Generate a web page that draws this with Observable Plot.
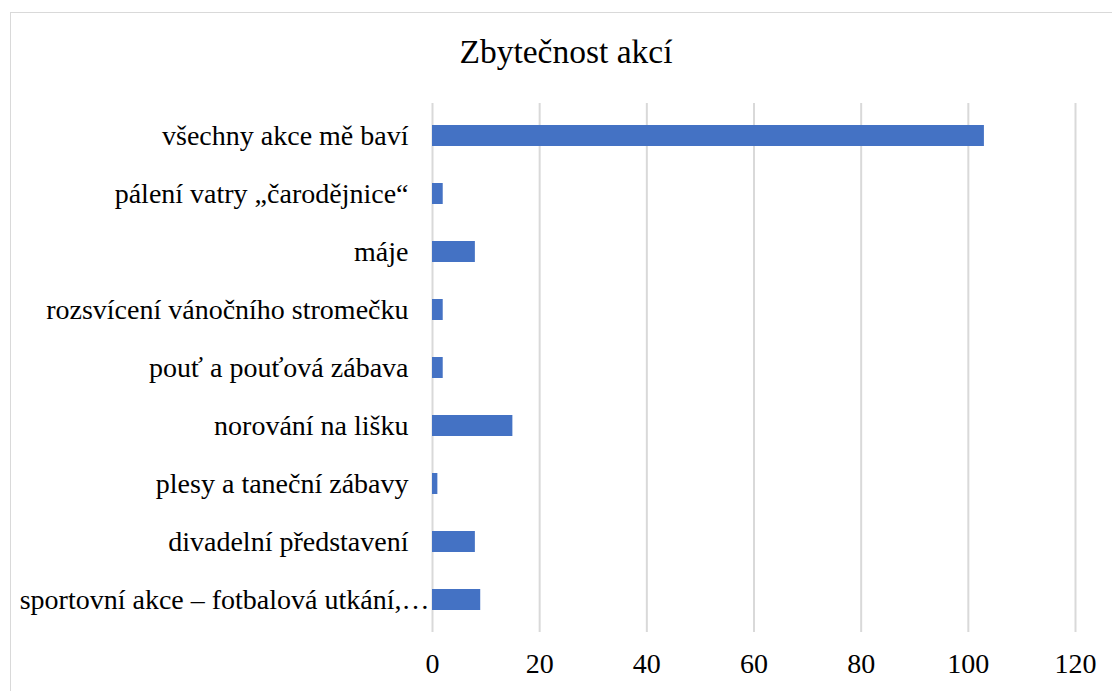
<!DOCTYPE html>
<html>
<head>
<meta charset="utf-8">
<script src="https://cdn.jsdelivr.net/npm/d3@7"></script>
<script src="https://cdn.jsdelivr.net/npm/@observablehq/plot@0.6"></script>
<style>
  html, body { margin: 0; padding: 0; background: #fff; overflow: hidden; }
  #page { position: relative; width: 1112px; height: 691px; }
  #frame { position: absolute; left: 10px; top: 12px; width: 1110px; height: 690px; border: 1.5px solid #d9d9d9; box-sizing: border-box; }
  #title { position: absolute; left: 0; width: 1132px; top: 32px; text-align: center; font-family: "Liberation Serif", serif; font-size: 33.5px; color: #000; line-height: 40px; }
  #chart { position: absolute; left: 0; top: 80px; }
  svg { font-family: "Liberation Serif", serif; }
</style>
</head>
<body>
<div id="page">
  <div id="frame"></div>
  <div id="title">Zbytečnost akcí</div>
  <div id="chart"></div>
</div>
<script>
const categories = [
  "všechny akce mě baví",
  "pálení vatry „čarodějnice“",
  "máje",
  "rozsvícení vánočního stromečku",
  "pouť a pouťová zábava",
  "norování na lišku",
  "plesy a taneční zábavy",
  "divadelní představení",
  "sportovní akce – fotbalová utkání,…"
];
const values = [103, 2, 8, 2, 2, 15, 1, 8, 9];
const xTicks = [0, 20, 40, 60, 80, 100, 120];

const data = categories.map((c, i) => ({category: c, value: values[i]}));
const lastCat = categories[categories.length - 1];
const serif = "Liberation Serif, Times New Roman, serif";

const chart = Plot.plot({
  width: 1112,
  height: 611,
  marginLeft: 432,
  marginRight: 37,
  marginTop: 23,
  marginBottom: 59,
  style: {fontFamily: serif, fontSize: "28px", background: "transparent"},
  x: {domain: [0, 120], ticks: xTicks},
  y: {domain: categories, paddingInner: 0.64, paddingOuter: 0.32, axis: null},
  marks: [
    Plot.gridX(xTicks, {stroke: "#d9d9d9", strokeOpacity: 1, strokeWidth: 2}),
    Plot.barX(data, {x: "value", y: "category", fill: "#4472C4"}),
    Plot.axisX({ticks: xTicks, tickSize: 0, tickPadding: 21, label: null, fontSize: 28, fontFamily: serif, fill: "#000"}),
    Plot.text(data.filter(d => d.category !== lastCat), {x: 0, y: "category", text: "category", textAnchor: "end", dx: -24, fontSize: 28, fontFamily: serif, fill: "#000"}),
    Plot.text(data.filter(d => d.category === lastCat), {x: 0, y: "category", text: "category", textAnchor: "end", dx: -3, fontSize: 28, fontFamily: serif, fill: "#000"})
  ]
});
document.getElementById("chart").appendChild(chart);
</script>
</body>
</html>
